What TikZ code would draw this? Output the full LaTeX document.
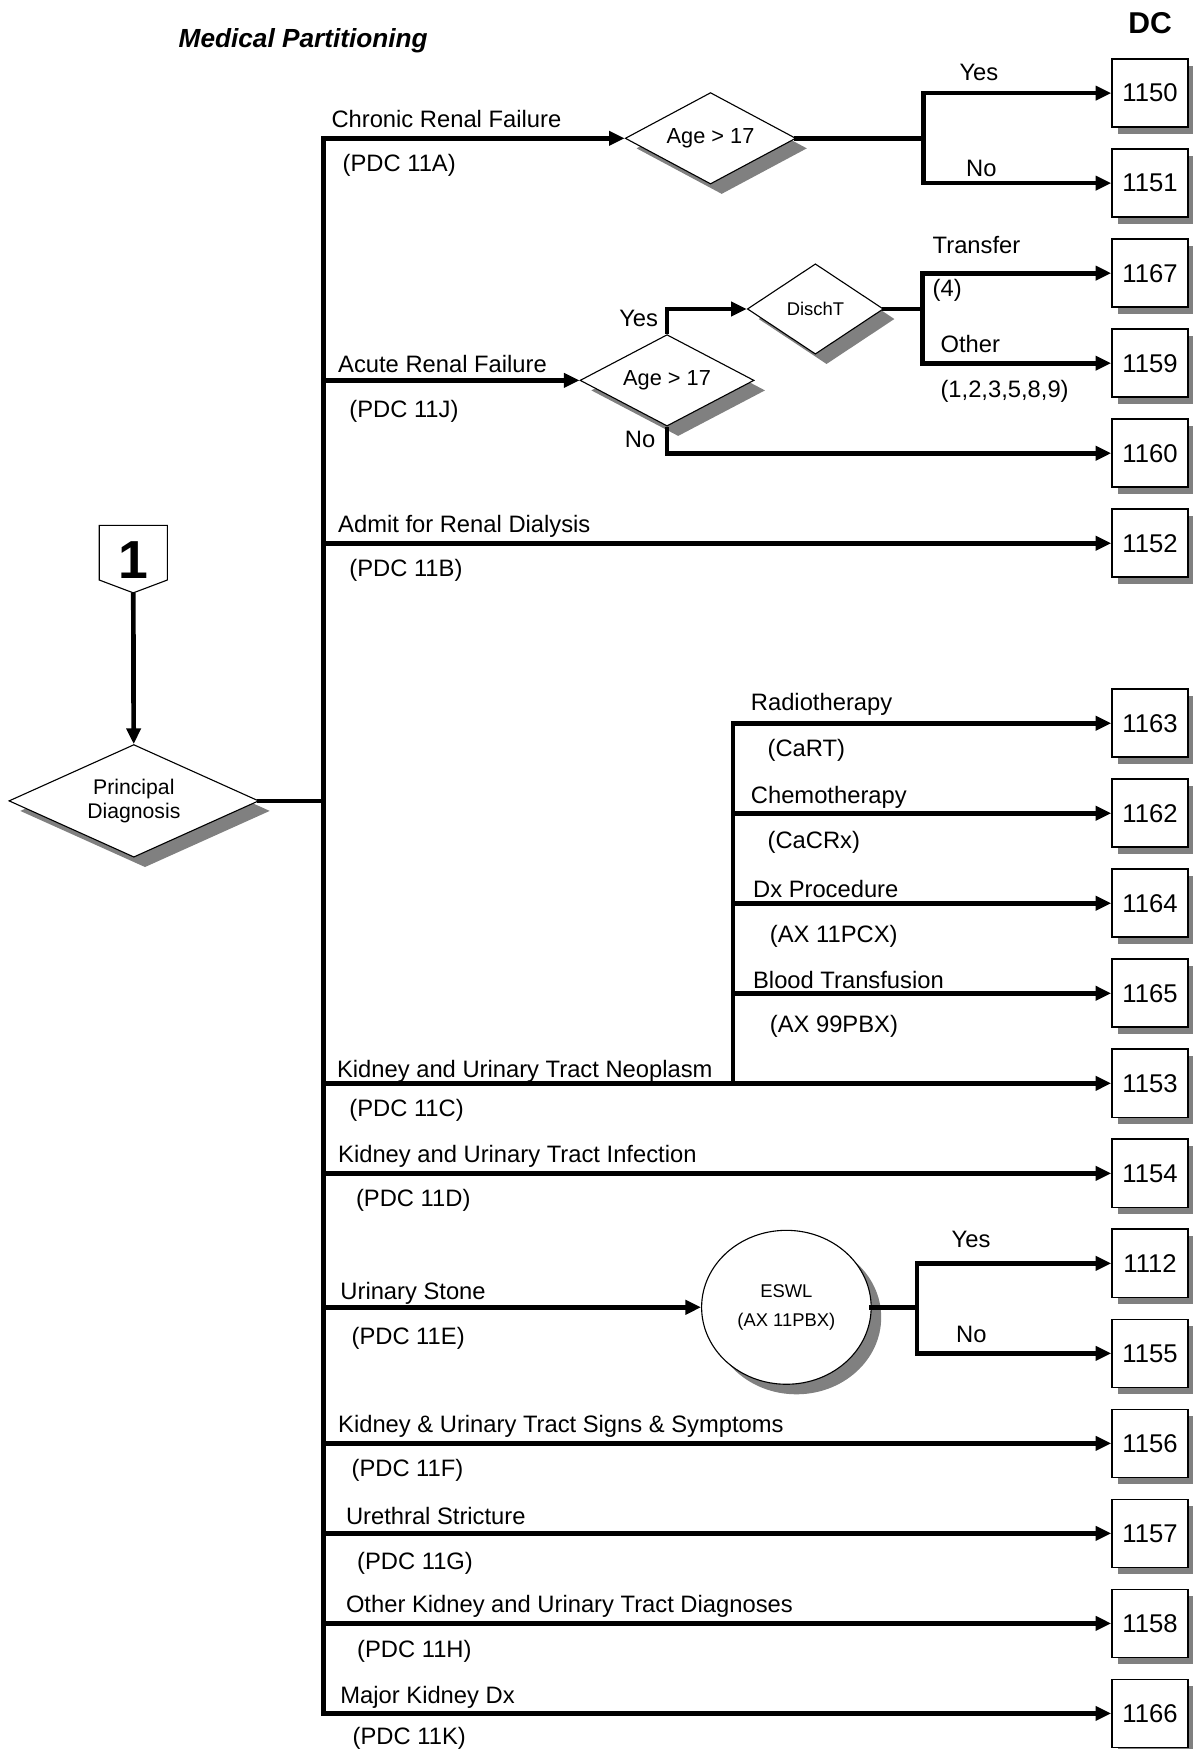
\documentclass[tikz,border=0pt]{standalone}
\usepackage{fontspec}
\setmainfont{Liberation Sans}
\usetikzlibrary{arrows.meta,shapes.geometric,shadows}
\definecolor{shadowgray}{gray}{0.5}

\begin{document}
\begin{tikzpicture}[x=1pt, y=-1pt,
    wire/.style={line width=4.2pt, line cap=rect},
    flow/.style={line width=4.2pt, -{Triangle[length=14pt,width=12.5pt]}},
    txt/.style={anchor=base west, inner sep=0pt, font=\fontsize{21.3}{25}\selectfont},
    dcbox/.style={draw, line width=1.5pt, fill=white, inner sep=0pt,
        minimum width=68pt, minimum height=61pt, font=\fontsize{23}{27}\selectfont,
        drop shadow={shadow xshift=5pt, shadow yshift=-6pt, fill=shadowgray, opacity=1}},
    choice/.style={diamond, draw, line width=1pt, fill=white, inner sep=0pt, shape aspect=2,
        drop shadow={shadow xshift=10pt, shadow yshift=-9pt, fill=shadowgray, opacity=1}}]
    \useasboundingbox (0,0) rectangle (1069,1568);

    \node[txt, font=\fontsize{23.5}{28}\selectfont\bfseries\itshape] (title) at (160,43) {Medical Partitioning};
    \node[anchor=base, inner sep=0pt, font=\fontsize{27}{30}\selectfont\bfseries] (dc) at (1031,30) {DC};

    \draw[line width=1pt, fill=white] (89,471) -- (150,471) -- (150,520) -- (119.5,531.5) -- (89,520) -- cycle;
    \node[inner sep=0pt, font=\fontsize{48}{48}\selectfont\bfseries] (one) at (119.5,502) {1};
    \coordinate (tip) at (119.5,531.5);
    \node[choice, shape aspect=2.24, minimum width=224pt, minimum height=101pt, align=center,
        font=\fontsize{19}{22}\selectfont] (pd) at (120,718) {Principal\\Diagnosis};

    \node[dcbox] (b1150) at (1031,83.5)   {1150};
    \node[dcbox] (b1151) at (1031,164.2)  {1151};
    \node[dcbox] (b1167) at (1031,244.9)  {1167};
    \node[dcbox] (b1159) at (1031,325.6)  {1159};
    \node[dcbox] (b1160) at (1031,406.3)  {1160};
    \node[dcbox] (b1152) at (1031,487)    {1152};
    \node[dcbox] (b1163) at (1031,648.4)  {1163};
    \node[dcbox] (b1162) at (1031,729.1)  {1162};
    \node[dcbox] (b1164) at (1031,809.8)  {1164};
    \node[dcbox] (b1165) at (1031,890.5)  {1165};
    \node[dcbox] (b1153) at (1031,971.2)  {1153};
    \node[dcbox] (b1154) at (1031,1051.9) {1154};
    \node[dcbox] (b1112) at (1031,1132.6) {1112};
    \node[dcbox] (b1155) at (1031,1213.3) {1155};
    \node[dcbox] (b1156) at (1031,1294)   {1156};
    \node[dcbox] (b1157) at (1031,1374.7) {1157};
    \node[dcbox] (b1158) at (1031,1455.4) {1158};
    \node[dcbox] (b1166) at (1031,1536.1) {1166};

    \node[choice, minimum width=153pt, minimum height=82pt, font=\fontsize{19.5}{22}\selectfont] (age1) at (637,124) {Age > 17};
    \node[choice, minimum width=156pt, minimum height=82pt, font=\fontsize{19.5}{22}\selectfont] (age2) at (598,341) {Age > 17};
    \node[choice, minimum width=122pt, minimum height=81pt, font=\fontsize{16.5}{20}\selectfont] (disch) at (731,277) {DischT};
    \node[ellipse, draw, line width=1pt, fill=white, inner sep=0pt, minimum width=152pt, minimum height=138pt,
        align=center, font=\fontsize{16.5}{26}\selectfont,
        drop shadow={shadow xshift=9pt, shadow yshift=-9pt, fill=shadowgray, opacity=1}] (eswl) at (705,1172) {ESWL\\(AX 11PBX)};

    \coordinate (trunk) at (290,0);
    \coordinate (nx) at (657,0);
    \coordinate (ja) at (828,124);
    \coordinate (jb) at (827,277);
    \coordinate (jc) at (822,1172);

    \draw[flow] (tip) -- (pd);
    \draw[wire] (pd) -- (trunk |- pd);
    \draw[wire] (trunk |- age1) -- (trunk |- b1166);

    \draw[flow] (trunk |- age1) -- (age1);
    \draw[wire] (age1) -- (ja);
    \draw[flow] (ja) |- (b1150);
    \draw[flow] (ja) |- (b1151);

    \draw[flow] (trunk |- age2) -- (age2);
    \draw[flow] (age2.north) |- (disch);
    \draw[flow] (age2.south) |- (b1160);
    \draw[wire] (disch) -- (jb);
    \draw[flow] (jb) |- (b1167);
    \draw[flow] (jb) |- (b1159);

    \draw[flow] (trunk |- b1152) -- (b1152);

    \draw[flow] (trunk |- b1153) -- (b1153);
    \draw[wire] (nx |- b1163) -- (nx |- b1153);
    \draw[flow] (nx |- b1163) -- (b1163);
    \draw[flow] (nx |- b1162) -- (b1162);
    \draw[flow] (nx |- b1164) -- (b1164);
    \draw[flow] (nx |- b1165) -- (b1165);

    \draw[flow] (trunk |- b1154) -- (b1154);

    \draw[flow] (trunk |- eswl) -- (eswl);
    \draw[wire] (eswl) -- (jc);
    \draw[flow] (jc) |- (b1112);
    \draw[flow] (jc) |- (b1155);

    \draw[flow] (trunk |- b1156) -- (b1156);
    \draw[flow] (trunk |- b1157) -- (b1157);
    \draw[flow] (trunk |- b1158) -- (b1158);
    \draw[flow] (trunk |- b1166) -- (b1166);

    \node[txt] (crf)    at (297,114)  {Chronic Renal Failure};
    \node[txt] (crfpdc) at (307,154)  {(PDC 11A)};
    \node[txt] (yes1)   at (860,72)   {Yes};
    \node[txt] (no1)    at (866,158)  {No};
    \node[txt] (arf)    at (303,334)  {Acute Renal Failure};
    \node[txt] (arfpdc) at (313,374)  {(PDC 11J)};
    \node[txt] (yes2)   at (555,293)  {Yes};
    \node[txt] (no2)    at (560,401)  {No};
    \node[txt] (trans)  at (836,227)  {Transfer};
    \node[txt] (four)   at (836,266)  {(4)};
    \node[txt] (other)  at (843,316)  {Other};
    \node[txt] (codes)  at (843,356)  {(1,2,3,5,8,9)};
    \node[txt] (ard)    at (303,477)  {Admit for Renal Dialysis};
    \node[txt] (ardpdc) at (313,517)  {(PDC 11B)};
    \node[txt] (radio)  at (673,637)  {Radiotherapy};
    \node[txt] (cart)   at (688,678)  {(CaRT)};
    \node[txt] (chemo)  at (673,720)  {Chemotherapy};
    \node[txt] (cacrx)  at (688,761)  {(CaCRx)};
    \node[txt] (dxp)    at (675,805)  {Dx Procedure};
    \node[txt] (dxpax)  at (690,845)  {(AX 11PCX)};
    \node[txt] (blood)  at (675,886)  {Blood Transfusion};
    \node[txt] (bloodax) at (690,926) {(AX 99PBX)};
    \node[txt] (neo)    at (302,966)  {Kidney and Urinary Tract Neoplasm};
    \node[txt] (neopdc) at (313,1001) {(PDC 11C)};
    \node[txt] (inf)    at (303,1042) {Kidney and Urinary Tract Infection};
    \node[txt] (infpdc) at (319,1082) {(PDC 11D)};
    \node[txt] (stone)  at (305,1165) {Urinary Stone};
    \node[txt] (stonepdc) at (315,1205) {(PDC 11E)};
    \node[txt] (yes3)   at (853,1118) {Yes};
    \node[txt] (no3)    at (857,1204) {No};
    \node[txt] (sign)   at (303,1284) {Kidney \& Urinary Tract Signs \& Symptoms};
    \node[txt] (signpdc) at (315,1324) {(PDC 11F)};
    \node[txt] (ureth)  at (310,1367) {Urethral Stricture};
    \node[txt] (urethpdc) at (320,1407) {(PDC 11G)};
    \node[txt] (oth)    at (310,1446) {Other Kidney and Urinary Tract Diagnoses};
    \node[txt] (othpdc) at (320,1486) {(PDC 11H)};
    \node[txt] (major)  at (305,1527) {Major Kidney Dx};
    \node[txt] (majorpdc) at (316,1564) {(PDC 11K)};
\end{tikzpicture}
\end{document}
